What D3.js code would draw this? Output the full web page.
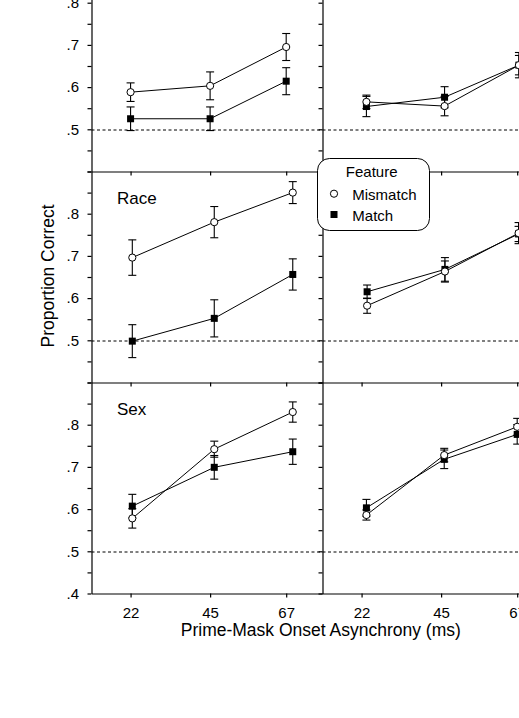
<!DOCTYPE html>
<html><head><meta charset="utf-8">
<script src="https://cdn.jsdelivr.net/npm/d3@7"></script>
<style>html,body{margin:0;padding:0;background:#fff;overflow:hidden}svg{display:block}</style>
</head><body>
<svg id="chart" width="519" height="718"></svg>
<script>
// ---------- data ----------
const soaTicks = [22, 45, 67];
const yMinorTicks = [0.4, 0.45, 0.5, 0.55, 0.6, 0.65, 0.7, 0.75, 0.8, 0.85, 0.9];
const yLabelsBottomRow = [".4", ".5", ".6", ".7", ".8"];
const yLabelsUpperRows = [".5", ".6", ".7", ".8"];
const chanceLevel = 0.5;
const seriesNames = ["Mismatch", "Match"];
const legendTitle = "Feature";
const rowLabels = ["", "Race", "Sex"];

// top-left
const tlX = [22, 45, 67];
const tlMismatch = [0.588, 0.603, 0.695];
const tlMismatchErr = [0.022, 0.033, 0.032];
const tlMatch = [0.525, 0.525, 0.614];
const tlMatchErr = [0.028, 0.028, 0.032];
// top-right
const trX = [23.4, 46, 67.5];
const trMismatch = [0.565, 0.555, 0.652];
const trMismatchErr = [0.016, 0.023, 0.030];
const trMatch = [0.554, 0.576, 0.652];
const trMatchErr = [0.024, 0.025, 0.023];
// middle-left (Race)
const mlX = [22.5, 46.2, 68.9];
const mlMismatch = [0.696, 0.780, 0.850];
const mlMismatchErr = [0.042, 0.037, 0.026];
const mlMatch = [0.498, 0.552, 0.656];
const mlMatchErr = [0.039, 0.044, 0.037];
// middle-right
const mrX = [23.6, 46.1, 67.4];
const mrMismatch = [0.582, 0.663, 0.754];
const mrMismatchErr = [0.018, 0.025, 0.025];
const mrMatch = [0.615, 0.668, 0.752];
const mrMatchErr = [0.016, 0.028, 0.018];
// bottom-left (Sex)
const blX = [22.5, 46.2, 68.9];
const blMismatch = [0.578, 0.742, 0.830];
const blMismatchErr = [0.023, 0.019, 0.024];
const blMatch = [0.607, 0.699, 0.736];
const blMatchErr = [0.028, 0.028, 0.030];
// bottom-right
const brX = [23.4, 45.9, 67];
const brMismatch = [0.586, 0.728, 0.795];
const brMismatchErr = [0.012, 0.016, 0.020];
const brMatch = [0.603, 0.718, 0.777];
const brMatchErr = [0.020, 0.022, 0.023];

// ---------- layout ----------
const FONT = "'Liberation Sans', Arial, Helvetica, sans-serif";
const panelW = 231, panelH = 211;
const colX = [91.5, 322.5];
const rowY = [-39.5, 171.5, 382.5];

const x = d3.scaleLinear().domain([10.7, 77.5]).range([0, panelW]);
const y = d3.scaleLinear().domain([0.4, 0.9]).range([panelH, 0]);

const panels = [
  {r:0,c:0,xs:tlX,mm:tlMismatch,mmE:tlMismatchErr,ma:tlMatch,maE:tlMatchErr},
  {r:0,c:1,xs:trX,mm:trMismatch,mmE:trMismatchErr,ma:trMatch,maE:trMatchErr},
  {r:1,c:0,xs:mlX,mm:mlMismatch,mmE:mlMismatchErr,ma:mlMatch,maE:mlMatchErr},
  {r:1,c:1,xs:mrX,mm:mrMismatch,mmE:mrMismatchErr,ma:mrMatch,maE:mrMatchErr},
  {r:2,c:0,xs:blX,mm:blMismatch,mmE:blMismatchErr,ma:blMatch,maE:blMatchErr},
  {r:2,c:1,xs:brX,mm:brMismatch,mmE:brMismatchErr,ma:brMatch,maE:brMatchErr},
];

const svg = d3.select("#chart");
svg.append("rect").attr("width",519).attr("height",718).attr("fill","#fff");

panels.forEach(p => {
  const g = svg.append("g").attr("transform", `translate(${colX[p.c]},${rowY[p.r]})`);
  // chance line
  g.append("line").attr("x1",0).attr("x2",panelW)
    .attr("y1",Math.round(y(chanceLevel))+0.5).attr("y2",Math.round(y(chanceLevel))+0.5)
    .attr("stroke","#000").attr("stroke-width",1).attr("stroke-dasharray","3,2.5");

  // y axis
  const labels = p.r === 2 ? yLabelsBottomRow : yLabelsUpperRows;
  const labelVals = labels.map(s => +("0"+s));
  const ya = d3.axisLeft(y).tickValues(yMinorTicks).tickSize(4).tickSizeOuter(0).tickPadding(8.5)
    .tickFormat(d => {
      if (p.c !== 0) return "";
      const i = labelVals.findIndex(v => Math.abs(v-d) < 1e-6);
      return i >= 0 ? labels[i] : "";
    });
  const yg = g.append("g").call(ya);
  // x axis
  const xa = d3.axisBottom(x).tickValues(soaTicks).tickSize(4).tickSizeOuter(0).tickPadding(10)
    .tickFormat(d => p.r === 2 ? String(d) : "");
  const xg = g.append("g").attr("transform",`translate(0,${panelH})`).call(xa);
  [yg, xg].forEach(a => {
    a.selectAll("path,line").attr("stroke","#000").attr("stroke-width",1.2);
    a.selectAll("text").attr("font-family",FONT).attr("font-size",15).attr("fill","#000");
  });

  // series
  const series = [
    {vals:p.ma, errs:p.maE, type:"square"},
    {vals:p.mm, errs:p.mmE, type:"circle"},
  ];
  const line = d3.line().x(d => x(d[0])).y(d => y(d[1]));
  series.forEach(s => {
    const pts = p.xs.map((xv,i) => [xv, s.vals[i], s.errs[i]]);
    g.append("path").attr("d", line(pts)).attr("fill","none").attr("stroke","#000").attr("stroke-width",1);
  });
  series.forEach(s => {
    const pts = p.xs.map((xv,i) => [xv, s.vals[i], s.errs[i]]);
    const eb = g.append("g").attr("stroke","#000").attr("stroke-width",1.1);
    pts.forEach(d => {
      const cx = x(d[0]);
      eb.append("line").attr("x1",cx).attr("x2",cx).attr("y1",y(d[1]-d[2])).attr("y2",y(d[1]+d[2]));
      eb.append("line").attr("x1",cx-4).attr("x2",cx+4).attr("y1",y(d[1]-d[2])).attr("y2",y(d[1]-d[2]));
      eb.append("line").attr("x1",cx-4).attr("x2",cx+4).attr("y1",y(d[1]+d[2])).attr("y2",y(d[1]+d[2]));
    });
  });
  series.forEach(s => {
    const pts = p.xs.map((xv,i) => [xv, s.vals[i]]);
    if (s.type === "square") {
      g.selectAll(null).data(pts).enter().append("rect")
        .attr("x", d => x(d[0])-3.5).attr("y", d => y(d[1])-3.5)
        .attr("width",7).attr("height",7).attr("fill","#000");
    } else {
      g.selectAll(null).data(pts).enter().append("circle")
        .attr("cx", d => x(d[0])).attr("cy", d => y(d[1])).attr("r",3.6)
        .attr("fill","#fff").attr("stroke","#000").attr("stroke-width",1);
    }
  });

  if (p.c === 0 && rowLabels[p.r]) {
    g.append("text").attr("x", 25.5).attr("y", 32)
      .attr("font-family",FONT).attr("font-size",17).attr("fill","#000").text(rowLabels[p.r]);
  }
});

// axis titles
svg.append("text").attr("x",320.8).attr("y",636).attr("text-anchor","middle")
  .attr("font-family",FONT).attr("font-size",17.5).attr("fill","#000")
  .text("Prime-Mask Onset Asynchrony (ms)");
svg.append("text").attr("transform","translate(54,276) rotate(-90)").attr("text-anchor","middle")
  .attr("font-family",FONT).attr("font-size",17.5).attr("fill","#000")
  .text("Proportion Correct");

// legend
const lg = svg.append("g").attr("transform","translate(317.5,158.5)");
lg.append("rect").attr("width",112).attr("height",72).attr("rx",12).attr("ry",12)
  .attr("fill","#fff").attr("stroke","#000").attr("stroke-width",1);
lg.append("text").attr("x",54.2).attr("y",18.2).attr("text-anchor","middle")
  .attr("font-family",FONT).attr("font-size",15).attr("fill","#000").text(legendTitle);
lg.append("circle").attr("cx",16.5).attr("cy",35.2).attr("r",3.6).attr("fill","#fff").attr("stroke","#000");
lg.append("text").attr("x",34.8).attr("y",41.5).attr("font-family",FONT).attr("font-size",15).attr("fill","#000").text(seriesNames[0]);
lg.append("rect").attr("x",13).attr("y",52.5).attr("width",7).attr("height",7).attr("fill","#000");
lg.append("text").attr("x",34.8).attr("y",62.5).attr("font-family",FONT).attr("font-size",15).attr("fill","#000").text(seriesNames[1]);
</script>
</body></html>
